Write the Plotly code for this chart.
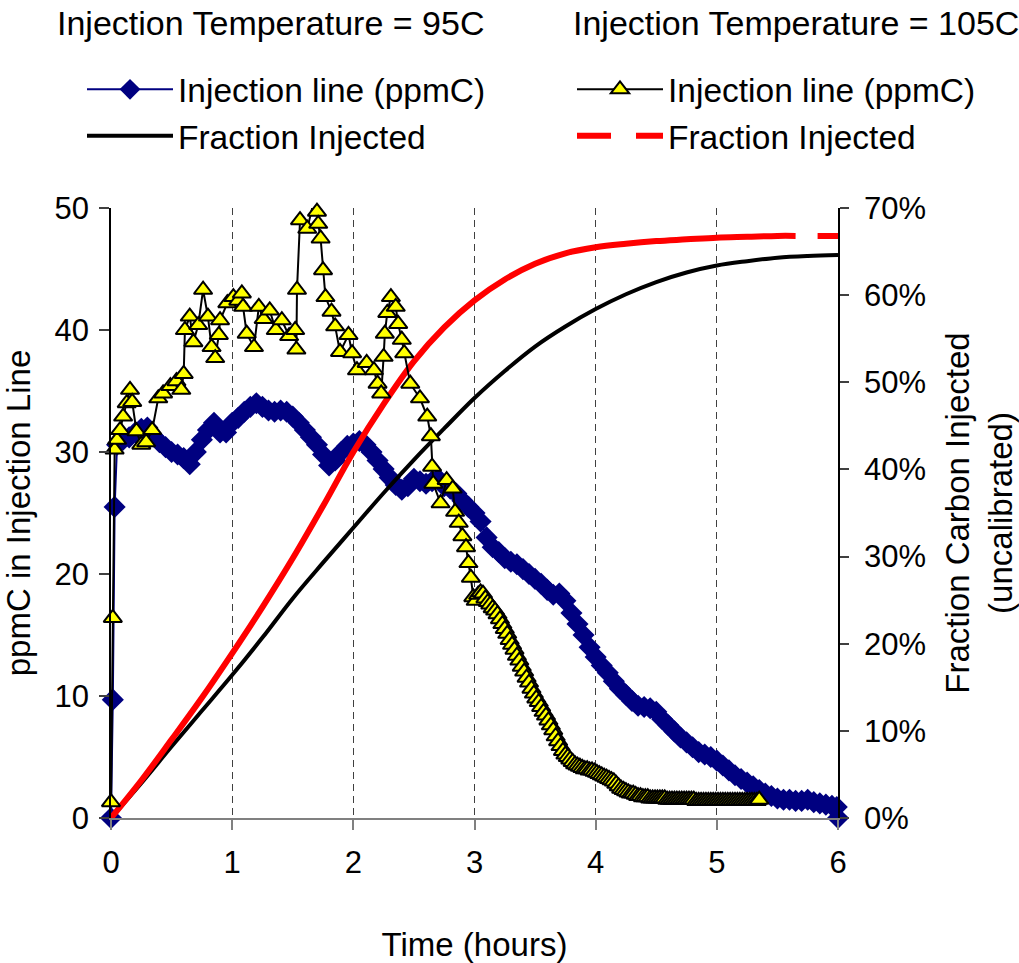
import plotly.graph_objects as go

FONT = "Liberation Sans, Arial, sans-serif"

# ---------------- Injection Temperature = 95C ----------------
# first samples (hours, ppmC)
t95_start = [0.0, 0.015, 0.03]
ppm95_start = [0.0, 9.7, 25.5]
# ppmC sampled every 0.05 h starting at 0.05 h
ppm95_grid = [
    30.6, 31.0, 31.2, 31.6, 31.9, 32.0, 31.3, 30.8, 30.4, 30.0,
    29.8, 29.5, 29.0, 30.0, 31.0, 31.8, 32.4, 31.6, 31.6, 32.4,
    32.8, 33.3, 33.7, 34.0, 33.7, 33.4, 33.3, 33.4, 33.3, 32.9,
    32.4, 31.8, 31.2, 30.6, 29.8, 28.9, 29.3, 30.0, 30.5, 30.7,
    30.9, 30.6, 30.0, 29.3, 28.6, 27.9, 27.3, 26.9, 27.2, 27.8,
    27.6, 27.4, 27.6, 27.8, 27.2, 27.0, 26.6, 26.0, 25.5, 25.0,
    24.3, 23.0, 22.2, 21.8, 21.3, 21.0, 20.8, 20.4, 20.0, 19.6,
    19.2, 18.7, 18.3, 18.4, 17.8, 16.8, 15.9, 15.0, 14.0, 13.2,
    12.5, 11.9, 11.2, 10.6, 10.1, 9.6, 9.2, 9.1, 9.0, 8.7,
    8.1, 7.6, 7.1, 6.6, 6.2, 5.8, 5.4, 5.2, 5.0, 4.7,
    4.3, 3.9, 3.5, 3.2, 2.9, 2.6, 2.3, 2.0, 1.8, 1.6,
    1.5, 1.5, 1.4, 1.4, 1.5, 1.3, 1.2, 1.1, 1.0,
]
t95_end = [5.99, 6.0]
ppm95_end = [0.9, 0.0]

t95 = t95_start + [round(0.05 * (i + 1), 3) for i in range(len(ppm95_grid))] + t95_end
ppm95 = ppm95_start + ppm95_grid + ppm95_end

# ---------------- Injection Temperature = 105C ----------------
t105_early = [
    0.000, 0.015, 0.030, 0.050, 0.075, 0.100, 0.130, 0.157, 0.175, 0.210,
    0.250, 0.290, 0.340, 0.390, 0.430, 0.490, 0.540, 0.580, 0.600, 0.610,
    0.650, 0.680, 0.720, 0.760, 0.800, 0.830, 0.860, 0.890, 0.900, 0.960,
    1.010, 1.050, 1.080, 1.090, 1.120, 1.180, 1.220, 1.260, 1.310, 1.360,
    1.410, 1.470, 1.520, 1.530, 1.535, 1.560, 1.620, 1.670, 1.700, 1.710,
    1.730, 1.750, 1.770, 1.820, 1.850, 1.890, 1.960, 1.990, 2.030, 2.110,
    2.170, 2.200, 2.230, 2.250, 2.260, 2.280, 2.310, 2.350, 2.370, 2.400,
    2.420, 2.470, 2.550, 2.610, 2.640, 2.650, 2.660, 2.720, 2.770, 2.820,
    2.840, 2.870, 2.900, 2.930,
]
ppm105_early = [
    1.3, 16.4, 30.2, 31.0, 31.8, 32.9, 34.0, 35.1, 34.1, 31.7,
    30.6, 30.8, 31.8, 34.4, 34.8, 35.4, 35.8, 35.1, 36.4, 40.0,
    41.1, 39.0, 40.4, 43.3, 41.1, 38.6, 37.7, 39.6, 40.8, 42.2,
    42.7, 42.4, 43.0, 41.9, 39.7, 38.6, 41.9, 40.9, 41.6, 40.0,
    40.8, 39.5, 40.0, 38.4, 43.3, 49.0, 48.3, 50.4, 49.7, 48.7,
    47.5, 44.9, 42.7, 41.5, 40.3, 38.2, 39.6, 38.1, 36.7, 37.3,
    36.7, 35.6, 34.8, 37.8, 39.7, 41.4, 42.7, 41.9, 40.5, 39.2,
    38.1, 35.6, 34.4, 32.9, 31.3, 28.8, 27.4, 25.8, 27.7, 27.0,
    25.1, 24.2, 23.1, 22.2,
]
# ppmC sampled every 0.02 h starting at 2.95 h
ppm105_tail = [
    20.9, 19.7, 18.1, 17.8, 18.3, 18.5, 18.4, 18.0, 17.7, 17.5,
    17.2, 17.0, 16.7, 16.3, 15.9, 15.5, 15.1, 14.6, 14.2, 13.8,
    13.3, 12.9, 12.4, 12.0, 11.5, 11.1, 10.6, 10.2, 9.8, 9.5,
    9.1, 8.7, 8.4, 8.0, 7.6, 7.2, 6.7, 6.3, 5.9, 5.5,
    5.2, 5.0, 4.8, 4.6, 4.4, 4.3, 4.2, 4.1, 4.0, 4.0,
    3.9, 3.9, 3.8, 3.7, 3.6, 3.5, 3.4, 3.3, 3.2, 3.1,
    3.0, 2.8, 2.6, 2.4, 2.3, 2.2, 2.1, 2.0, 2.0, 1.9,
    1.8, 1.8, 1.7, 1.7, 1.7, 1.6, 1.6, 1.6, 1.6, 1.6,
    1.6, 1.6, 1.5, 1.5, 1.5, 1.5, 1.5, 1.5, 1.5, 1.5,
    1.5, 1.5, 1.5, 1.5, 1.4, 1.4, 1.4, 1.4, 1.4, 1.4,
    1.4, 1.4, 1.4, 1.4, 1.4, 1.4, 1.4, 1.4, 1.4, 1.4,
    1.4, 1.4, 1.4, 1.4, 1.4, 1.4, 1.4, 1.4, 1.4, 1.4,
    1.5,
]
t105 = t105_early + [round(2.95 + 0.02 * i, 3) for i in range(len(ppm105_tail))]
ppm105 = ppm105_early + ppm105_tail

# ---------------- Fraction injected (right axis) ----------------
t_frac95 = [0, 0.25, 0.5, 0.75, 1.0, 1.25, 1.5, 1.75, 2.0, 2.25, 2.5, 2.75, 3.0,
            3.25, 3.5, 3.75, 4.0, 4.25, 4.5, 4.75, 5.0, 5.25, 5.5, 5.75, 6.0]
frac95 = [0.0, 0.040, 0.082, 0.123, 0.164, 0.207, 0.252, 0.293, 0.333, 0.373, 0.411,
          0.447, 0.482, 0.513, 0.541, 0.564, 0.584, 0.601, 0.615, 0.626, 0.634,
          0.639, 0.643, 0.645, 0.646]

t_frac105 = [0, 0.25, 0.5, 0.75, 1.0, 1.25, 1.5, 1.75, 2.0, 2.25, 2.5, 2.75, 3.0,
             3.25, 3.5, 3.75, 4.0, 4.25, 4.5, 4.75, 5.0, 5.25, 5.5, 5.65, 6.0]
frac105 = [0.0, 0.043, 0.090, 0.138, 0.189, 0.242, 0.298, 0.358, 0.420, 0.475, 0.524,
           0.563, 0.594, 0.618, 0.636, 0.648, 0.655, 0.659, 0.662, 0.664, 0.666,
           0.667, 0.668, 0.668, 0.668]

header_95 = "Injection Temperature = 95C"
header_105 = "Injection Temperature = 105C"

# ---------------- Figure geometry ----------------
W, H = 1019, 963
L, T = 111, 208
pw, ph = 727, 610
R, B = W - L - pw, H - T - ph


def px_x(p):
    """page x pixel -> paper fraction"""
    return (p - L) / pw


def px_y(p):
    """page y pixel -> paper fraction"""
    return (T + ph - p) / ph


fig = go.Figure()

fig.add_trace(go.Scatter(
    x=t95, y=ppm95, mode="lines+markers", name="Injection line (ppmC)",
    line=dict(color="#000080", width=2),
    marker=dict(symbol="diamond", size=17, color="#000080"),
    legend="legend", cliponaxis=False))

fig.add_trace(go.Scatter(
    x=t_frac95, y=frac95, mode="lines", name="Fraction Injected",
    line=dict(color="#000000", width=4, shape="spline", smoothing=1),
    yaxis="y2", legend="legend"))

fig.add_trace(go.Scatter(
    x=t_frac105[:-1], y=frac105[:-1], mode="lines", name="Fraction Injected",
    line=dict(color="#FF0000", width=6, shape="spline", smoothing=1),
    yaxis="y2", showlegend=False))
fig.add_trace(go.Scatter(
    x=t_frac105[-2:], y=frac105[-2:], mode="lines", name="Fraction Injected",
    line=dict(color="#FF0000", width=6, dash="0px,22px,25px"),
    yaxis="y2", showlegend=False))

fig.add_trace(go.Scatter(
    x=t105, y=ppm105, mode="lines+markers", name="Injection line (ppmC)",
    line=dict(color="#000000", width=2),
    marker=dict(symbol="triangle-up", size=16, color="#FFFF00",
                line=dict(color="#000000", width=2)),
    yaxis="y3", legend="legend2", cliponaxis=False))

# legend entry for the 105C fraction curve (long-dash style)
fig.add_trace(go.Scatter(
    x=[None], y=[None], mode="lines", name="Fraction Injected",
    line=dict(color="#FF0000", width=6, dash="34px,25px"),
    yaxis="y2", legend="legend2"))

tickfont = dict(family=FONT, size=31, color="#000000")
titlefont = dict(family=FONT, size=33, color="#000000")
legfont = dict(family=FONT, size=33.5, color="#000000")
headfont = dict(family=FONT, size=34, color="#000000")

fig.update_layout(
    width=W, height=H, autosize=False,
    margin=dict(l=L, r=R, t=T, b=B, pad=0, autoexpand=False),
    paper_bgcolor="white", plot_bgcolor="white",
    font=dict(family=FONT, size=33, color="#000000"),
    xaxis=dict(
        range=[0, 6], dtick=1, tick0=0, automargin=False,
        showgrid=True, gridcolor="#404040", gridwidth=1, griddash="7px,5px",
        showline=True, linecolor="#808080", linewidth=1.5,
        ticks="outside", ticklen=10, tickcolor="#808080", tickwidth=1.5,
        tickfont=tickfont, zeroline=False, ticklabelstandoff=6,
        title=dict(text="Time (hours)", font=titlefont, standoff=58),
    ),
    yaxis=dict(
        range=[0, 50], dtick=10, tick0=0, automargin=False,
        showgrid=False, zeroline=False,
        showline=True, linecolor="#000000", linewidth=1.5,
        ticks="outside", ticklen=10, tickcolor="#404040", tickwidth=1.5,
        tickfont=tickfont, ticklabelstandoff=4,
        title=dict(text="ppmC in Injection Line", font=titlefont, standoff=22),
    ),
    yaxis2=dict(
        overlaying="y", side="right", anchor="x", automargin=False,
        range=[0, 0.7], dtick=0.1, tick0=0, tickformat=".0%",
        showgrid=False, zeroline=False,
        showline=True, linecolor="#000000", linewidth=1.5,
        ticks="outside", ticklen=9, tickcolor="#404040", tickwidth=1.5,
        tickfont=tickfont, ticklabelstandoff=9,
        title=dict(text="Fraction Carbon Injected<br>(uncalibrated)", font=titlefont, standoff=28),
    ),
    yaxis3=dict(overlaying="y", range=[0, 50], visible=False, automargin=False),
    yaxis4=dict(
        overlaying="y", side="right", anchor="x", automargin=False,
        range=[0, 0.7], dtick=0.1, tick0=0,
        showgrid=False, zeroline=False, showline=False, showticklabels=False,
        ticks="inside", ticklen=9, tickcolor="#404040", tickwidth=1.5,
    ),
    legend=dict(
        xref="paper", yref="paper", x=px_x(82), y=px_y(61),
        xanchor="left", yanchor="top", bgcolor="rgba(0,0,0,0)",
        font=legfont, itemwidth=86, tracegroupgap=0, orientation="v",
        itemsizing="trace",
    ),
    legend2=dict(
        xref="paper", yref="paper", x=px_x(572), y=px_y(61),
        xanchor="left", yanchor="top", bgcolor="rgba(0,0,0,0)",
        font=legfont, itemwidth=86, tracegroupgap=0, orientation="v",
    ),
    annotations=[
        dict(text=header_95, xref="paper", yref="paper",
             x=px_x(55), y=px_y(23), xanchor="left", yanchor="middle",
             showarrow=False, font=headfont),
        dict(text=header_105, xref="paper", yref="paper",
             x=px_x(571), y=px_y(23), xanchor="left", yanchor="middle",
             showarrow=False, font=headfont),
    ],
)

# drop the browser's default 8px page margin so the figure fills the window exactly
fig.write_html("out.html", config={"displayModeBar": False},
               post_script="document.body.style.margin='0px';")
